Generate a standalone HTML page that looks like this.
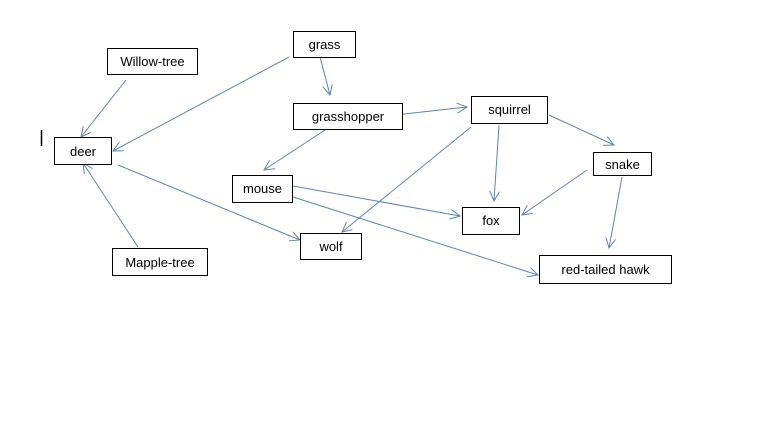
<!DOCTYPE html>
<html><head><style>
body{margin:0;background:#fff;width:758px;height:446px;overflow:hidden;}
svg{position:absolute;left:0;top:0}
text{font-family:"Liberation Sans",sans-serif;font-size:13px;fill:#000}
</style></head><body>
<svg width="758" height="446" viewBox="0 0 758 446">
<defs><marker id="a" markerWidth="12" markerHeight="12" refX="10" refY="5" orient="auto" markerUnits="userSpaceOnUse"><path d="M0,0 L10,5 L0,10" fill="none" stroke="#5b84b8" stroke-width="1"/></marker></defs>
<g stroke="#5b84b8" stroke-width="1" fill="none" marker-end="url(#a)">
<line x1="126" y1="80" x2="81" y2="137"/>
<line x1="289" y1="57" x2="113" y2="151"/>
<line x1="320" y1="57" x2="330" y2="95"/>
<line x1="395" y1="115" x2="467" y2="107"/>
<line x1="325" y1="130" x2="264" y2="170"/>
<line x1="118" y1="165" x2="300" y2="240"/>
<line x1="138" y1="247" x2="83" y2="163"/>
<line x1="293" y1="186" x2="460" y2="216"/>
<line x1="293" y1="197" x2="538" y2="275"/>
<line x1="471" y1="127" x2="342" y2="232"/>
<line x1="499" y1="125" x2="494" y2="201"/>
<line x1="549" y1="115" x2="614" y2="145"/>
<line x1="587" y1="170" x2="522" y2="215"/>
<line x1="622" y1="177" x2="609" y2="248"/>
</g>
<line x1="41.5" y1="130" x2="41.5" y2="146" stroke="#000" stroke-width="1.5"/>
<g fill="#fff" stroke="#000" stroke-width="1">
<rect x="107.5" y="48.5" width="90" height="26"/>
<rect x="293.5" y="31.5" width="62" height="26"/>
<rect x="293.5" y="103.5" width="109" height="26"/>
<rect x="54.5" y="137.5" width="57" height="27"/>
<rect x="232.5" y="175.5" width="60" height="27"/>
<rect x="300.5" y="233.5" width="61" height="26"/>
<rect x="112.5" y="248.5" width="95" height="27"/>
<rect x="471.5" y="96.5" width="76" height="27"/>
<rect x="593.5" y="152.5" width="58" height="23"/>
<rect x="462.5" y="207.5" width="57" height="27"/>
<rect x="539.5" y="255.5" width="132" height="28"/>
</g>
<g text-anchor="middle">
<text x="152.5" y="66">Willow-tree</text>
<text x="324.5" y="49">grass</text>
<text x="348" y="121">grasshopper</text>
<text x="83" y="156">deer</text>
<text x="262.5" y="193">mouse</text>
<text x="331" y="251">wolf</text>
<text x="160" y="267">Mapple-tree</text>
<text x="509.5" y="114">squirrel</text>
<text x="622.5" y="169">snake</text>
<text x="491" y="225">fox</text>
<text x="605.5" y="274">red-tailed hawk</text>
</g>
</svg>
</body></html>
